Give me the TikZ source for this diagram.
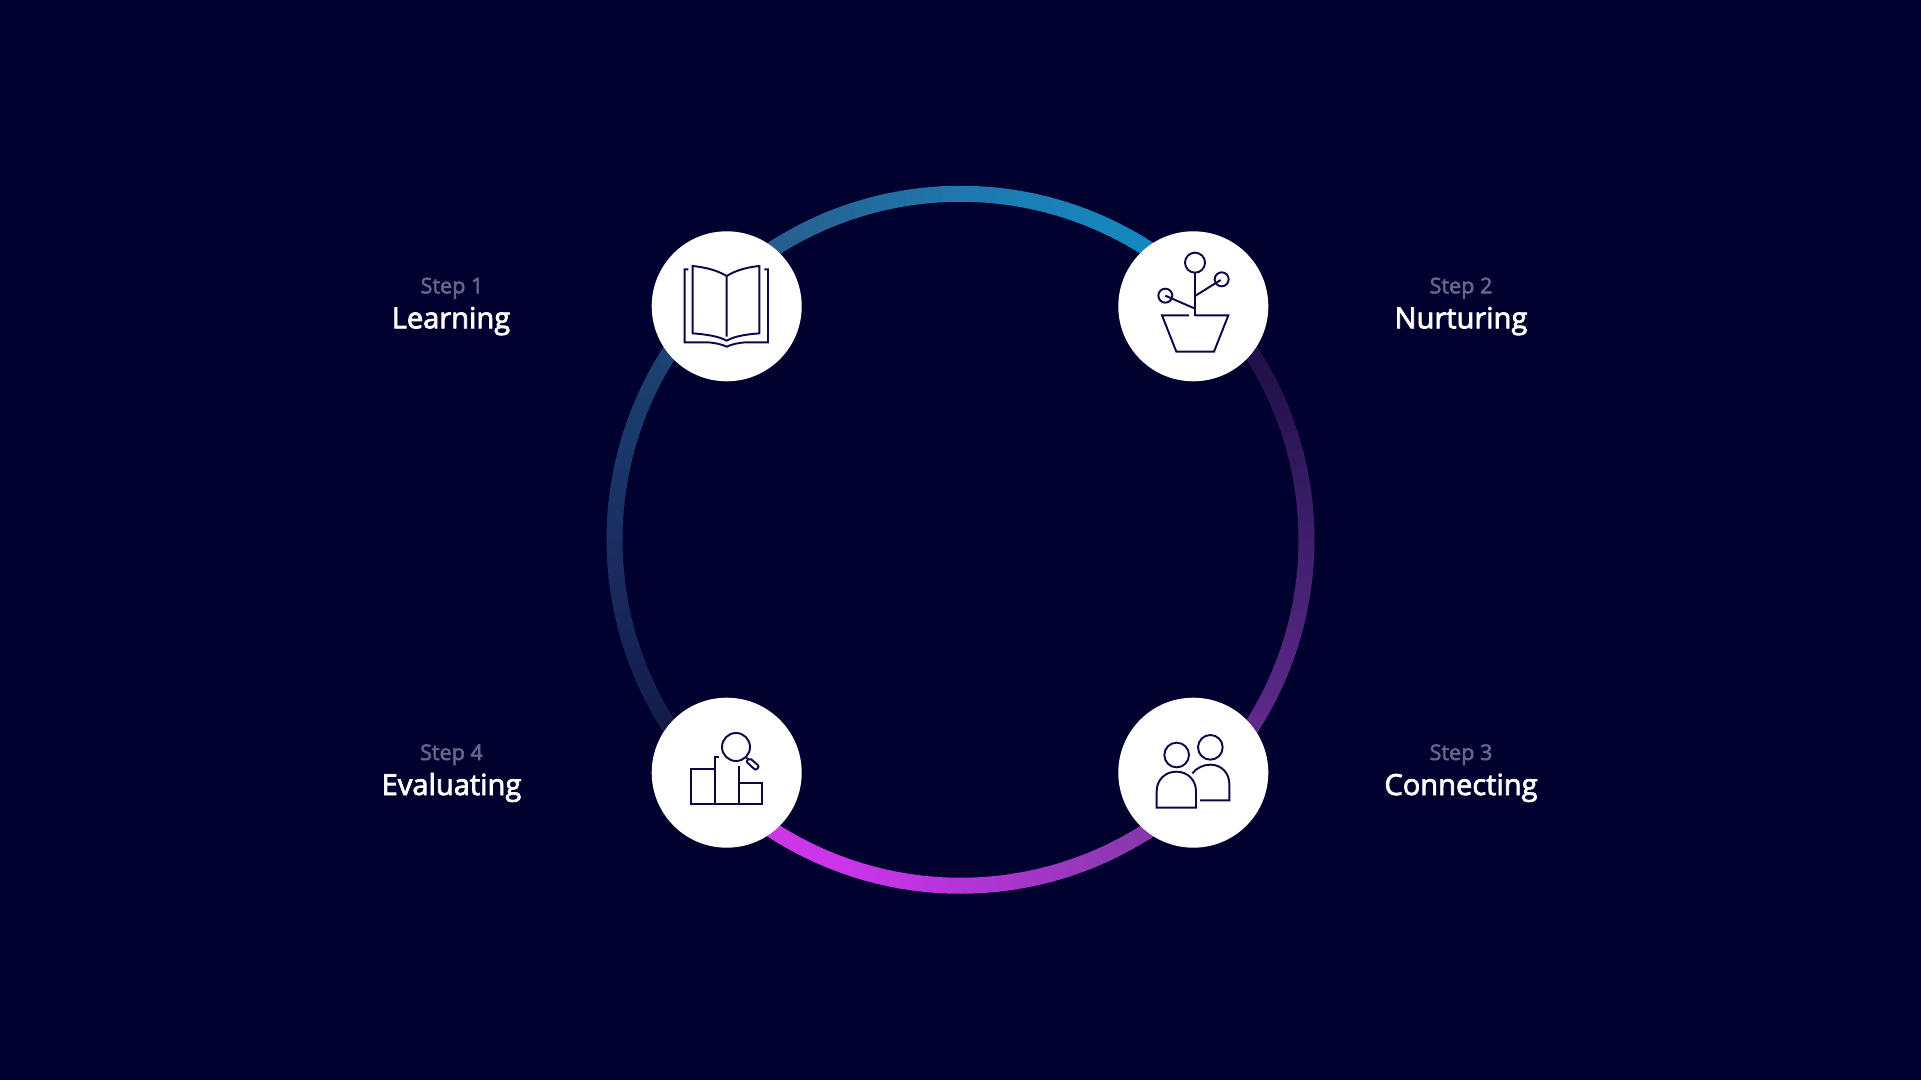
\documentclass[tikz,border=0pt]{standalone}
\usepackage{fontspec}
\usepackage{xcolor}
\setmainfont{Open Sans}[FakeBold=2.6]
\usetikzlibrary{positioning}

\definecolor{pagebg}{HTML}{01012F}
\definecolor{iconline}{HTML}{0C0847}
\definecolor{steptext}{HTML}{66668A}
\definecolor{blueA}{HTML}{0F8EC8}
\definecolor{blueB}{HTML}{1488C0}
\definecolor{blueC}{HTML}{1F78AE}
\definecolor{blueD}{HTML}{27608F}
\definecolor{blueE}{HTML}{1C4071}
\definecolor{blueF}{HTML}{1A2E62}
\definecolor{blueG}{HTML}{131D4C}
\definecolor{blueH}{HTML}{101645}
\definecolor{pinkA}{HTML}{C83CE0}
\definecolor{pinkB}{HTML}{CC34EA}
\definecolor{pinkC}{HTML}{B435D8}
\definecolor{pinkD}{HTML}{8A38AE}
\definecolor{pinkE}{HTML}{5C2888}
\definecolor{pinkF}{HTML}{3E1F6D}
\definecolor{pinkG}{HTML}{22104A}
\definecolor{pinkH}{HTML}{1C0F42}

\tikzset{
  stepdisc/.style={circle,fill=white,minimum size=112.5pt,inner sep=0pt},
  steplabel/.style={anchor=base,inner sep=0pt,text=steptext,font=\fontsize{16.2}{20}\selectfont},
  namelabel/.style={anchor=base,inner sep=0pt,text=white,font=\fontsize{21.8}{26}\selectfont},
  iconstroke/.style={draw=iconline,line width=1.45pt}
}

\begin{document}
\begin{tikzpicture}[x=0.75pt,y=0.75pt,yscale=-1,xscale=1]
\useasboundingbox (0,0) rectangle (1921,1080);
\fill [pagebg] (0,0) rectangle (1921,1080);

% Ring
\begin{scope}[shift={(960.5,539.75)},yscale=-1]
\foreach \angA/\angB/\colA/\colB in {45/60/blueA/blueB,60/90/blueB/blueC,90/120/blueC/blueD,120/150/blueD/blueE,150/180/blueE/blueF,180/210/blueF/blueG,210/225/blueG/blueH,225/250/pinkA/pinkB,250/270/pinkB/pinkC,270/300/pinkC/pinkD,300/330/pinkD/pinkE,330/360/pinkE/pinkF,360/390/pinkF/pinkG,390/405/pinkG/pinkH}
  \foreach \k in {0,...,9} {
    \pgfmathsetmacro{\angS}{\angA+(\angB-\angA)*\k/10}
    \pgfmathsetmacro{\angD}{(\angB-\angA)/10+0.25}
    \pgfmathtruncatemacro{\pct}{\k*10+5}
    \colorlet{ringmix}{\colB!\pct!\colA}
    \draw [ringmix,line width=12pt] (\angS:346) arc [start angle=\angS,delta angle=\angD,radius=346];
  }
\end{scope}

% Discs
\node [stepdisc] (learning) at (726.7,306.3) {};
\node [stepdisc] (nurturing) at (1193.3,306.3) {};
\node [stepdisc] (connecting) at (1193.3,772.7) {};
\node [stepdisc] (evaluating) at (726.7,772.7) {};

% Book
\begin{scope}[shift={(640,220)},x=0.25pt,y=0.25pt]
\draw [iconstroke] (260,168) .. controls (230,150) and (195,142) .. (158,138) -- (158,340) .. controls (195,343) and (235,348) .. (260,362) .. controls (285,348) and (320,343) .. (358,340) -- (358,138) .. controls (320,142) and (290,150) .. (260,168) -- (260,350);
\draw [iconstroke] (145,148) -- (134,148) -- (134,367) -- (200,367) .. controls (225,368) and (245,373) .. (260,380) .. controls (275,373) and (295,368) .. (320,367) -- (384,367) -- (384,148) -- (373,148);
\end{scope}

% Plant
\begin{scope}[shift={(1105,220)},x=0.25pt,y=0.25pt]
\draw [iconstroke] (270,128) circle [radius=30];
\draw [iconstroke] (350,178) circle [radius=21];
\draw [iconstroke] (181,227) circle [radius=21];
\draw [iconstroke] (270,158) -- (270,288);
\draw [iconstroke] (270,228) -- (347,180);
\draw [iconstroke] (181,227) -- (268,265);
\draw [iconstroke] (252,286) -- (171,286) -- (214,395) -- (327,395) -- (370,286) -- (270,286);
\end{scope}

% People
\begin{scope}[shift={(1105,690)},x=0.25pt,y=0.25pt]
\draw [iconstroke] (215,195) circle [radius=37];
\draw [iconstroke] (316,172) circle [radius=37];
\draw [iconstroke] (155,353) -- (155,304) .. controls (155,270) and (180,245) .. (214,245) .. controls (248,245) and (273,270) .. (273,304) -- (273,353) -- cycle;
\draw [iconstroke] (262,250) .. controls (274,234) and (295,224) .. (316,224) .. controls (350,224) and (373,250) .. (373,282) -- (373,331) -- (285,331);
\end{scope}

% Chart
\begin{scope}[shift={(640,690)},x=0.25pt,y=0.25pt]
\draw [iconstroke] (288,171) circle [radius=42];
\draw [iconstroke] (317,201) -- (324,208);
\draw [iconstroke,rounded corners=1.5pt] (318,214) -- (329,204) -- (358,229) -- (347,241) -- cycle;
\draw [iconstroke] (222,236) -- (153,236) -- (153,342) -- (366,342) -- (366,278) -- (296,278);
\draw [iconstroke] (238,200) -- (224,200) -- (224,342);
\draw [iconstroke] (296,228) -- (296,342);
\end{scope}

% Text Node
\node [steplabel] (step1) at (452,293.3) {Step 1};
\node [namelabel] (name1) at (451,328.3) {Learning};
\node [steplabel] (step2) at (1461,293.3) {Step 2};
\node [namelabel] (name2) at (1461,328.3) {Nurturing};
\node [steplabel] (step3) at (1461,760) {Step 3};
\node [namelabel] (name3) at (1461,795) {Connecting};
\node [steplabel] (step4) at (451.5,760) {Step 4};
\node [namelabel] (name4) at (451.5,795) {Evaluating};

\end{tikzpicture}
\end{document}
